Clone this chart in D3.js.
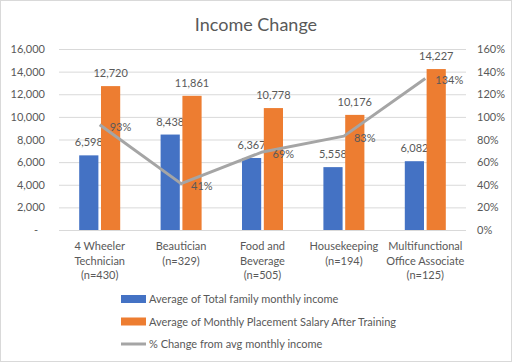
<!DOCTYPE html>
<html>
<head>
<meta charset="utf-8">
<script src="https://cdn.jsdelivr.net/npm/d3@7"></script>
<style>
  body { margin: 0; background: #fff; }
  svg { display: block; font-family: Lato, "Open Sans", sans-serif; }
</style>
</head>
<body>
<div id="chart"></div>
<script>
const categories = [
  ['4 Wheeler', 'Technician', '(n=430)'],
  ['Beautician', '(n=329)'],
  ['Food and', 'Beverage', '(n=505)'],
  ['Housekeeping', '(n=194)'],
  ['Multifunctional', 'Office Associate', '(n=125)']
];
const familyIncome = [6598, 8438, 6367, 5558, 6082];
const placementSalary = [12720, 11861, 10778, 10176, 14227];
const pctChange = [0.93, 0.41, 0.69, 0.83, 1.34];
const seriesNames = [
  'Average of Total family monthly income',
  'Average of Monthly Placement Salary After Training',
  '% Change from avg monthly income'
];
const leftTicks = [0, 2000, 4000, 6000, 8000, 10000, 12000, 14000, 16000];
const rightTicks = [0, 0.2, 0.4, 0.6, 0.8, 1.0, 1.2, 1.4, 1.6];

const W = 512, H = 362;
const plot = { left: 59, right: 466, top: 49, bottom: 230 };
const blue = '#4472c4', orange = '#ed7d31', gray = '#a5a5a5', textCol = '#595959';
const fs = '11px';

const svg = d3.select('#chart').append('svg')
  .attr('width', W).attr('height', H);

svg.append('rect')
  .attr('x', 0.5).attr('y', 0.5)
  .attr('width', W - 1).attr('height', H - 1)
  .attr('fill', '#fff').attr('stroke', '#d9d9d9');

svg.append('text')
  .attr('x', W / 2).attr('y', 31)
  .attr('text-anchor', 'middle')
  .attr('fill', textCol)
  .style('font-size', '18px')
  .text('Income Change');

const idx = d3.range(categories.length);
const x = d3.scaleBand().domain(idx).range([plot.left, plot.right]);
const inner = d3.scaleBand().domain([0, 1]).range([0, 41]).paddingInner(0.12);
const y = d3.scaleLinear().domain([0, 16000]).range([plot.bottom, plot.top]);
const y2 = d3.scaleLinear().domain([0, 1.6]).range([plot.bottom, plot.top]);

// gridlines + left axis
svg.append('g')
  .attr('transform', `translate(${plot.left},0)`)
  .call(d3.axisLeft(y).tickValues(leftTicks)
    .tickSize(-(plot.right - plot.left)).tickPadding(14)
    .tickFormat(d => d === 0 ? '-' : d3.format(',')(d)))
  .call(g => g.select('.domain').remove())
  .call(g => g.selectAll('.tick line').attr('stroke', '#d9d9d9'))
  .call(g => g.selectAll('.tick text').attr('fill', textCol).style('font-size', fs)
    .attr('font-family', 'Lato, sans-serif'))
  .call(g => g.selectAll('.tick').filter(d => d === 0).select('text').attr('dx', -7));

// right axis
svg.append('g')
  .attr('transform', `translate(${plot.right},0)`)
  .call(d3.axisRight(y2).tickValues(rightTicks).tickSize(0).tickPadding(11)
    .tickFormat(d3.format('.0%')))
  .call(g => g.select('.domain').remove())
  .call(g => g.selectAll('.tick text').attr('fill', textCol).style('font-size', fs)
    .attr('font-family', 'Lato, sans-serif'));

// bottom axis line
svg.append('line')
  .attr('x1', plot.left).attr('x2', plot.right)
  .attr('y1', plot.bottom + 0.5).attr('y2', plot.bottom + 0.5)
  .attr('stroke', '#d9d9d9');

// category labels
const catG = svg.append('g');
categories.forEach((lines, i) => {
  const t = catG.append('text')
    .attr('x', x(i) + x.bandwidth() / 2)
    .attr('y', 250)
    .attr('text-anchor', 'middle')
    .attr('fill', textCol)
    .style('font-size', fs);
  lines.forEach((ln, j) => {
    t.append('tspan')
      .attr('x', x(i) + x.bandwidth() / 2)
      .attr('dy', j === 0 ? 0 : 14.5)
      .text(ln);
  });
});

const off = (x.bandwidth() - 41) / 2;
const bars = [
  { values: familyIncome, color: blue, k: 0 },
  { values: placementSalary, color: orange, k: 1 }
];
bars.forEach(s => {
  svg.append('g').selectAll('rect')
    .data(s.values)
    .join('rect')
    .attr('x', (d, i) => x(i) + off + inner(s.k))
    .attr('y', d => y(d))
    .attr('width', inner.bandwidth())
    .attr('height', d => plot.bottom - y(d))
    .attr('fill', s.color);

  svg.append('g').selectAll('text')
    .data(s.values)
    .join('text')
    .attr('x', (d, i) => x(i) + off + inner(s.k) + inner.bandwidth() / 2)
    .attr('y', d => y(d) - 9)
    .attr('text-anchor', 'middle')
    .attr('fill', textCol)
    .style('font-size', fs)
    .text(d => d3.format(',')(d));
});

// percent line
const line = d3.line()
  .x((d, i) => x(i) + x.bandwidth() / 2)
  .y(d => y2(d));

svg.append('path')
  .datum(pctChange)
  .attr('fill', 'none')
  .attr('stroke', gray)
  .attr('stroke-width', 3)
  .attr('stroke-linejoin', 'round')
  .attr('d', line);

svg.append('g').selectAll('text')
  .data(pctChange)
  .join('text')
  .attr('x', (d, i) => x(i) + x.bandwidth() / 2 + 10)
  .attr('y', d => y2(d) + 6)
  .attr('fill', textCol)
  .style('font-size', fs)
  .text(d => d3.format('.0%')(d));

// legend
const legend = svg.append('g').attr('transform', 'translate(121,0)');
seriesNames.forEach((name, i) => {
  const ly = 299 + i * 22.5;
  if (i < 2) {
    legend.append('rect')
      .attr('x', 0).attr('y', ly - 4)
      .attr('width', 25).attr('height', 8)
      .attr('fill', i === 0 ? blue : orange);
  } else {
    legend.append('line')
      .attr('x1', 0).attr('x2', 25)
      .attr('y1', ly).attr('y2', ly)
      .attr('stroke', gray).attr('stroke-width', 3);
  }
  legend.append('text')
    .attr('x', 28).attr('y', ly + 4)
    .attr('fill', textCol)
    .style('font-size', fs)
    .text(name);
});
</script>
</body>
</html>
